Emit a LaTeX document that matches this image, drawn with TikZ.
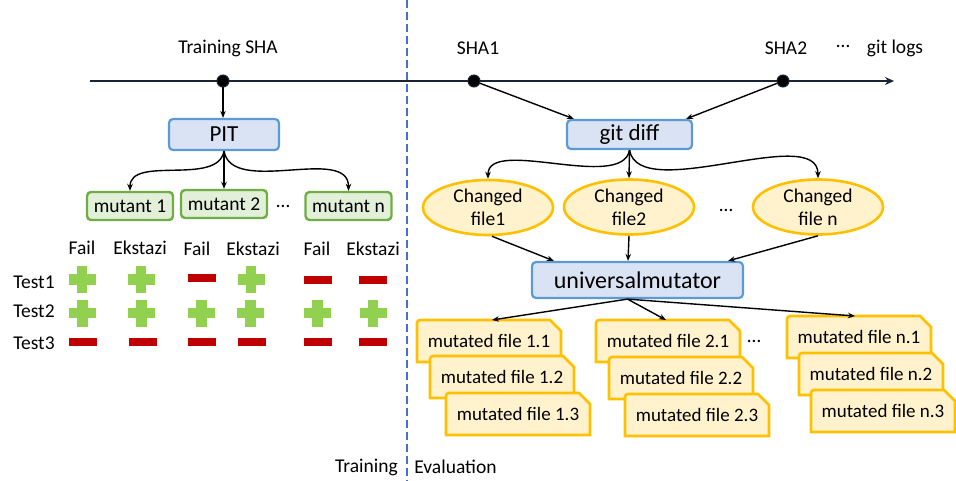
\documentclass[tikz,border=0pt]{standalone}
\usepackage{fontspec}
\setmainfont{Carlito}
\usetikzlibrary{arrows.meta,shapes.geometric}
\definecolor{bfill}{HTML}{DAE3F3}
\definecolor{bline}{HTML}{5B9BD5}
\definecolor{gfill}{HTML}{E2F0D9}
\definecolor{gline}{HTML}{70AD47}
\definecolor{yfill}{HTML}{FFF2CC}
\definecolor{yline}{HTML}{FFC000}
\definecolor{pgreen}{HTML}{92D050}
\definecolor{mred}{HTML}{C00000}
\definecolor{dashblue}{HTML}{4472C4}
\definecolor{tline}{HTML}{1B2433}
\tikzset{
  bluebox/.style={draw=bline,fill=bfill,line width=2.2pt,rounded corners=4pt,inner sep=0pt},
  greenbox/.style={draw=gline,fill=gfill,line width=2.4pt,rounded corners=4pt,minimum width=86pt,minimum height=28pt,inner sep=0pt,font=\fontsize{19.5}{21}\selectfont},
  ell/.style={ellipse,draw=yline,fill=yfill,line width=2.6pt,minimum width=130pt,minimum height=55pt,inner sep=0pt,align=center,font=\fontsize{19.5}{23}\selectfont},
  mfshape/.style={draw=yline,fill=yfill,line width=2.6pt,line join=miter},
  lbl/.style={font=\fontsize{19.5}{21}\selectfont,inner sep=0pt},
  conn/.style={-{Stealth[length=7pt,width=5.5pt]},line width=1.4pt,black},
  dot/.style={circle,fill=black,draw=tline,line width=1pt,inner sep=0pt,minimum size=12pt},
  pics/plusmark/.style={code={\fill[pgreen] (-13.5,-5.3) rectangle (13.5,5.3); \fill[pgreen] (-5.3,-13.5) rectangle (5.3,13.5);}},
  pics/minusmark/.style={code={\fill[mred] (-14,-3.8) rectangle (14,3.8);}}
}
\newcommand{\mfile}[4]{%
  \filldraw[mfshape] (#2-72,#3+21) -- (#2-72,#3-18) [rounded corners=3pt] -- (#2-72,#3-21) -- (#2-60,#3-21) [sharp corners] -- (#2+61,#3-21) -- (#2+72,#3-10) -- (#2+72,#3+21) -- cycle;
  \coordinate (#1top) at (#2,#3-21);
  \node[font=\fontsize{19}{21}\selectfont,inner sep=0pt] (#1) at (#2,#3) {#4};
}
\begin{document}
\begin{tikzpicture}[x=1pt,y=-1pt]
\useasboundingbox (0,0) rectangle (956,481);
% divider
\draw[dashblue,line width=2.6pt,dash pattern=on 8pt off 4pt] (407,0) -- (407,481);
% timeline
\coordinate (tstart) at (90,81);
\coordinate (tend) at (894,81);
\draw[tline,line width=2.8pt,-{Stealth[length=9pt,width=8pt]}] (tstart) -- (tend);
\node[dot] (dtr) at (223,81) {};
\node[dot] (d1) at (474,81) {};
\node[dot] (d2) at (783,81) {};
\node[lbl] (ltr) at (228,48) {Training SHA};
\node[lbl] (l1) at (478,48) {SHA1};
\node[lbl] (l2) at (786,48) {SHA2};
\node[lbl] (ldots) at (843,46) {…};
\node[lbl] (lgit) at (895,48) {git logs};
% PIT
\node[bluebox,minimum width=110pt,minimum height=31pt,font=\fontsize{23}{25}\selectfont] (pit) at (224,134.5) {PIT};
\draw[conn] (dtr) -- (pit.north -| dtr);
\node[greenbox] (m1) at (130,206) {mutant 1};
\node[greenbox] (m2) at (224,204) {mutant 2};
\node[lbl] (mdots) at (283,206) {…};
\node[greenbox] (mn) at (348.5,206) {mutant n};
\draw[conn] (pit.south) to[out=-100,in=90,looseness=0.9] (m1.north);
\draw[conn] (pit.south) -- (m2.north);
\draw[conn] (pit.south) to[out=-80,in=90,looseness=0.9] (mn.north);
% table
\node[lbl] (f1) at (82,248) {Fail};
\node[lbl] (e1) at (140,248) {Ekstazi};
\node[lbl] (f2) at (197,249) {Fail};
\node[lbl] (e2) at (253,249) {Ekstazi};
\node[lbl] (f3) at (317,249) {Fail};
\node[lbl] (e3) at (373,249) {Ekstazi};
\node[lbl] (t1) at (34,282) {Test1};
\node[lbl] (t2) at (34,311) {Test2};
\node[lbl] (t3) at (34,343) {Test3};
\pic at (82,279.5) {plusmark};
\pic at (141,279.5) {plusmark};
\pic at (202,278) {minusmark};
\pic at (251,279.5) {plusmark};
\pic at (317.5,280) {minusmark};
\pic at (373,280) {minusmark};
\pic at (82.5,313) {plusmark};
\pic at (141.5,313) {plusmark};
\pic at (201.7,313) {plusmark};
\pic at (250.7,313) {plusmark};
\pic at (317.3,313) {plusmark};
\pic at (373,313) {plusmark};
\pic at (83,342) {minusmark};
\pic at (143,342) {minusmark};
\pic at (202,342) {minusmark};
\pic at (252,342) {minusmark};
\pic at (317.5,342) {minusmark};
\pic at (373,342) {minusmark};
% git diff
\node[bluebox,minimum width=125pt,minimum height=29pt,font=\fontsize{23}{25}\selectfont] (gd) at (629.5,134.5) {git diff};
\draw[conn] (d1) -- ([xshift=8pt]gd.north west);
\draw[conn] (d2) -- ([xshift=-7pt]gd.north east);
\node[ell] (c1) at (488,207.5) {Changed\\file1};
\node[ell] (c2) at (629,207) {Changed\\file2};
\node[lbl] (cdots) at (726,210) {…};
\node[ell] (cn) at (818,207) {Changed\\file n};
\draw[conn] (gd.south) to[out=-100,in=90,looseness=0.75] (c1.north);
\draw[conn] (gd.south) -- (c2.north);
\draw[conn] (gd.south) to[out=-80,in=90,looseness=0.75] (cn.north);
% universalmutator
\node[bluebox,minimum width=211pt,minimum height=36pt,font=\fontsize{24}{26}\selectfont] (um) at (637.5,280) {universalmutator};
\draw[conn] ([xshift=4pt]c1.south) -- ([xshift=23pt]um.north west);
\draw[conn] (c2.south) -- ([xshift=-9.5pt]um.north);
\draw[conn] (cn.south) -- ([xshift=-16pt]um.north east);
% mutated files
\mfile{f11}{489}{341}{mutated file 1.1}
\mfile{f12}{502}{377}{mutated file 1.2}
\mfile{f13}{518}{414}{mutated file 1.3}
\mfile{f21}{668}{341}{mutated file 2.1}
\mfile{f22}{681}{378}{mutated file 2.2}
\mfile{f23}{697}{415}{mutated file 2.3}
\mfile{fn1}{859}{337}{mutated file n.1}
\mfile{fn2}{871}{374}{mutated file n.2}
\mfile{fn3}{883}{411}{mutated file n.3}
\node[lbl] (fdots) at (754,341) {…};
\draw[conn] ([xshift=-10pt]um.south) -- ([xshift=3pt]f11top);
\draw[conn] ([xshift=-10pt]um.south) -- ([xshift=-2pt]f21top);
\draw[conn] ([xshift=-10pt]um.south) -- ([xshift=-4pt]fn1top);
% phase labels
\node[lbl] (ltrain) at (366.5,467) {Training};
\node[lbl] (leval) at (455.5,467) {Evaluation};
\end{tikzpicture}
\end{document}
